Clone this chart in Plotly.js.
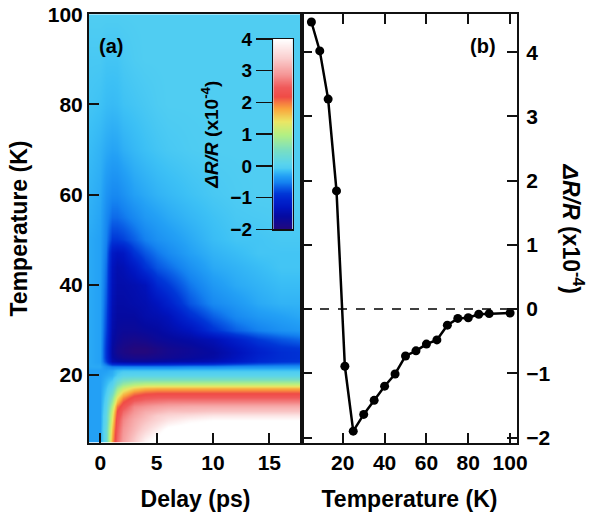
<!DOCTYPE html>
<html>
<head>
<meta charset="utf-8">
<script src="https://cdn.plot.ly/plotly-3.0.1.min.js"></script>
<style>html,body{margin:0;padding:0;background:#fff;}#plot{width:591px;height:515px;}</style>
</head>
<body>
<div id="plot"></div>
<script>
// ---- Panel (a): transient reflectivity map, dR/R (x1e-4) ----
const delays = [-1, 0, 0.5, 1, 1.5, 2, 3, 4, 5, 6, 8, 10, 12, 14, 16, 18];
const temps = [5, 8, 10, 11, 12, 13, 14, 15, 16, 17, 18, 19, 20, 21, 22, 23, 24, 25, 26, 28, 30, 33, 36, 40, 44, 47, 50, 55, 60, 70, 80, 90, 100];
const mapT5   = [-0.3,-0.3,0.3,1.8,2.6,3.0,3.4,3.9,4.2,4.3,4.3,4.3,4.3,4.3,4.3,4.3];
const mapT8   = [-0.3,-0.3,0.3,1.6,2.5,2.9,3.2,3.5,3.8,4.1,4.2,4.2,4.2,4.2,4.2,4.2];
const mapT10  = [-0.3,-0.3,0.2,1.4,2.4,2.8,3.1,3.3,3.5,3.7,3.9,4.0,4.0,4.0,4.0,4.0];
const mapT11  = [-0.3,-0.3,0.2,1.3,2.3,2.7,3.0,3.2,3.4,3.5,3.6,3.7,3.7,3.7,3.7,3.7];
const mapT12  = [-0.3,-0.3,0.15,1.2,2.2,2.6,2.9,3.1,3.2,3.3,3.3,3.35,3.35,3.35,3.35,3.35];
const mapT13  = [-0.3,-0.3,0.1,1.0,2.0,2.4,2.8,2.9,3.0,3.05,3.1,3.1,3.1,3.1,3.1,3.1];
const mapT14  = [-0.3,-0.3,0.05,0.8,1.7,2.2,2.6,2.7,2.75,2.8,2.8,2.8,2.8,2.8,2.8,2.8];
const mapT15  = [-0.3,-0.3,0.0,0.6,1.4,1.9,2.3,2.45,2.5,2.5,2.5,2.5,2.5,2.5,2.5,2.5];
const mapT16  = [-0.3,-0.3,-0.05,0.4,1.1,1.6,2.0,2.15,2.2,2.2,2.2,2.2,2.2,2.2,2.2,2.2];
const mapT17  = [-0.3,-0.3,-0.1,0.2,0.8,1.2,1.55,1.7,1.75,1.75,1.75,1.75,1.75,1.75,1.75,1.75];
const mapT18  = [-0.3,-0.3,-0.15,0.05,0.5,0.8,1.0,1.1,1.1,1.1,1.1,1.1,1.1,1.1,1.1,1.1];
const mapT19  = [-0.3,-0.3,-0.2,-0.1,0.2,0.4,0.5,0.5,0.5,0.5,0.5,0.5,0.5,0.5,0.5,0.5];
const mapT20  = [-0.3,-0.3,-0.25,-0.2,-0.05,0.1,0.12,0.12,0.12,0.12,0.12,0.12,0.12,0.12,0.12,0.12];
const mapT21  = [-0.3,-0.3,-0.3,-0.25,-0.15,-0.1,-0.1,-0.1,-0.1,-0.1,-0.1,-0.1,-0.1,-0.1,-0.1,-0.1];
const mapT22  = [-0.25,-0.25,-0.4,-0.5,-0.5,-0.5,-0.5,-0.5,-0.5,-0.5,-0.45,-0.45,-0.4,-0.4,-0.4,-0.4];
const mapT23  = [-0.25,-0.3,-0.8,-1.45,-1.55,-1.6,-1.65,-1.65,-1.6,-1.55,-1.5,-1.4,-1.2,-1.0,-0.9,-0.85];
const mapT24  = [-0.25,-0.3,-0.9,-1.55,-1.7,-1.8,-1.85,-1.85,-1.8,-1.75,-1.65,-1.55,-1.3,-1.05,-0.95,-0.9];
const mapT25  = [-0.25,-0.3,-0.9,-1.6,-1.8,-1.9,-2.0,-2.0,-1.9,-1.8,-1.7,-1.6,-1.35,-1.1,-0.95,-0.9];
const mapT26  = [-0.25,-0.3,-0.9,-1.6,-1.8,-1.9,-2.0,-2.0,-1.9,-1.8,-1.7,-1.55,-1.3,-1.05,-0.9,-0.85];
const mapT28  = [-0.25,-0.3,-0.85,-1.55,-1.7,-1.8,-1.85,-1.8,-1.7,-1.65,-1.55,-1.4,-1.1,-0.85,-0.7,-0.6];
const mapT30  = [-0.25,-0.3,-0.8,-1.5,-1.65,-1.7,-1.7,-1.65,-1.6,-1.5,-1.3,-0.9,-0.65,-0.5,-0.4,-0.35];
const mapT33  = [-0.25,-0.3,-0.75,-1.45,-1.6,-1.6,-1.6,-1.5,-1.45,-1.35,-0.95,-0.65,-0.45,-0.35,-0.3,-0.25];
const mapT36  = [-0.25,-0.3,-0.7,-1.4,-1.55,-1.55,-1.5,-1.45,-1.3,-1.1,-0.7,-0.45,-0.35,-0.25,-0.2,-0.2];
const mapT40  = [-0.25,-0.3,-0.65,-1.35,-1.5,-1.5,-1.45,-1.35,-1.0,-0.85,-0.55,-0.35,-0.25,-0.2,-0.15,-0.15];
const mapT44  = [-0.25,-0.3,-0.6,-1.3,-1.45,-1.4,-1.2,-0.9,-0.7,-0.6,-0.4,-0.25,-0.2,-0.15,-0.1,-0.1];
const mapT47  = [-0.25,-0.3,-0.55,-1.2,-1.3,-1.25,-0.9,-0.7,-0.55,-0.45,-0.3,-0.2,-0.15,-0.1,-0.1,-0.1];
const mapT50  = [-0.25,-0.3,-0.5,-0.85,-0.85,-0.8,-0.65,-0.5,-0.4,-0.35,-0.25,-0.15,-0.1,-0.1,-0.08,-0.08];
const mapT55  = [-0.22,-0.28,-0.45,-0.6,-0.6,-0.55,-0.45,-0.35,-0.3,-0.25,-0.18,-0.12,-0.08,-0.07,-0.06,-0.06];
const mapT60  = [-0.2,-0.25,-0.38,-0.45,-0.45,-0.4,-0.3,-0.25,-0.2,-0.17,-0.12,-0.08,-0.06,-0.05,-0.05,-0.05];
const mapT70  = [-0.15,-0.2,-0.25,-0.28,-0.27,-0.22,-0.17,-0.13,-0.1,-0.08,-0.06,-0.05,-0.05,-0.05,-0.05,-0.05];
const mapT80  = [-0.1,-0.12,-0.15,-0.16,-0.15,-0.12,-0.1,-0.08,-0.06,-0.05,-0.05,-0.05,-0.05,-0.05,-0.05,-0.05];
const mapT90  = [-0.08,-0.08,-0.1,-0.1,-0.1,-0.08,-0.06,-0.05,-0.05,-0.05,-0.05,-0.05,-0.05,-0.05,-0.05,-0.05];
const mapT100 = [-0.05,-0.05,-0.05,-0.05,-0.05,-0.05,-0.05,-0.05,-0.05,-0.05,-0.05,-0.05,-0.05,-0.05,-0.05,-0.05];
const mapRows = [mapT5,mapT8,mapT10,mapT11,mapT12,mapT13,mapT14,mapT15,mapT16,mapT17,mapT18,mapT19,mapT20,mapT21,mapT22,mapT23,mapT24,mapT25,mapT26,mapT28,mapT30,mapT33,mapT36,mapT40,mapT44,mapT47,mapT50,mapT55,mapT60,mapT70,mapT80,mapT90,mapT100];

// colour-bar levels (legend of the map)
const cbarLevels = [-2,-1.75,-1.5,-1.25,-1,-0.75,-0.5,-0.25,0,0.25,0.5,0.75,1,1.25,1.5,1.75,2,2.25,2.5,2.75,3,3.25,3.5,3.75,4];
const cbarTicks = [-2,-1,0,1,2,3,4];

// ---- Panel (b): dR/R vs temperature ----
const tempB = [5, 9, 13, 17, 21, 25, 30, 35, 40, 45, 50, 55, 60, 65, 70, 75, 80, 85, 90, 100];
const dRB = [4.47, 4.02, 3.27, 1.84, -0.89, -1.90, -1.64, -1.42, -1.20, -1.01, -0.73, -0.65, -0.545, -0.48, -0.25, -0.145, -0.135, -0.08, -0.07, -0.06];

const zmin = -2, zmax = 4;
function f(v){ return (v - zmin)/(zmax - zmin); }
const cscale = [
  [f(-2.0),'rgb(35,8,125)'],
  [f(-1.6),'rgb(5,10,160)'],
  [f(-1.3),'rgb(0,20,190)'],
  [f(-1.05),'rgb(0,35,205)'],
  [f(-0.85),'rgb(0,55,215)'],
  [f(-0.65),'rgb(10,95,230)'],
  [f(-0.5),'rgb(20,130,240)'],
  [f(-0.3),'rgb(35,160,245)'],
  [f(-0.13),'rgb(60,192,245)'],
  [f(-0.05),'rgb(80,205,242)'],
  [f(0.1),'rgb(90,212,236)'],
  [f(0.5),'rgb(120,222,195)'],
  [f(1.0),'rgb(180,240,130)'],
  [f(1.4),'rgb(235,230,100)'],
  [f(1.8),'rgb(250,165,60)'],
  [f(2.2),'rgb(240,75,70)'],
  [f(2.5),'rgb(240,90,90)'],
  [f(2.9),'rgb(245,150,150)'],
  [f(3.4),'rgb(250,205,205)'],
  [f(4.0),'rgb(255,255,255)']
];

const FONT = 'Liberation Sans, Arial, Helvetica, sans-serif';
const tickFont = {family: FONT, size: 21, color: '#000', weight: 'bold'};
const titleFont = {family: FONT, size: 23, color: '#000', weight: 'bold'};
const LC = '#111';

const traces = [
  {type: 'heatmap', x: delays, y: temps, z: mapRows, colorscale: cscale, zmin: zmin, zmax: zmax,
   zsmooth: 'best', showscale: false, xaxis: 'x', yaxis: 'y', hoverinfo: 'skip'},
  {type: 'heatmap', x: [0, 1], y: cbarLevels, z: cbarLevels.map(v => [v, v]), colorscale: cscale,
   zmin: zmin, zmax: zmax, zsmooth: 'best', showscale: false, xaxis: 'x3', yaxis: 'y3', hoverinfo: 'skip'},
  {type: 'scatter', mode: 'lines+markers', x: tempB, y: dRB, xaxis: 'x2', yaxis: 'y2',
   line: {color: '#000', width: 2.5}, marker: {color: '#000', size: 9}, hoverinfo: 'skip'}
];

const H = 515, W = 591;
const yDom = [1 - 442.7/H, 1 - 14.3/H];
const layout = {
  width: W, height: H, margin: {l: 0, r: 0, t: 0, b: 0}, paper_bgcolor: '#fff', plot_bgcolor: '#fff',
  showlegend: false,
  xaxis: {domain: [89/W, 302/W], range: [-1, 17.9], anchor: 'y', tickvals: [0, 5, 10, 15],
    ticks: 'inside', ticklen: 10, tickwidth: 2, tickcolor: LC, showline: true, linecolor: LC, linewidth: 2,
    mirror: true, showgrid: false, zeroline: false, tickfont: tickFont,
    title: {text: 'Delay (ps)', font: titleFont, standoff: 18}},
  yaxis: {domain: yDom, range: [5, 100], anchor: 'x', tickvals: [20, 40, 60, 80, 100],
    ticks: 'inside', ticklen: 10, tickwidth: 2, tickcolor: LC, showline: true, linecolor: LC, linewidth: 2,
    mirror: true, showgrid: false, zeroline: false, tickfont: tickFont,
    title: {text: 'Temperature (K)', font: titleFont, standoff: 14}},
  xaxis2: {domain: [302/W, 517/W], range: [0.5, 103.3], anchor: 'y2', tickvals: [20, 40, 60, 80, 100],
    ticks: 'inside', ticklen: 10, tickwidth: 2, tickcolor: LC, showline: true, linecolor: LC, linewidth: 2,
    mirror: 'ticks', showgrid: false, zeroline: false, tickfont: tickFont,
    title: {text: 'Temperature (K)', font: titleFont, standoff: 18}},
  yaxis2: {domain: yDom, range: [-2.08, 4.59], anchor: 'x2', side: 'right', tickvals: [-2, -1, 0, 1, 2, 3, 4],
    ticks: 'inside', ticklen: 10, tickwidth: 2, tickcolor: LC, showline: true, linecolor: LC, linewidth: 2,
    mirror: 'ticks', showgrid: false, zeroline: false, tickfont: tickFont, ticklabelstandoff: 3},
  xaxis3: {domain: [273.3/W, 292.7/W], range: [0, 1], anchor: 'y3', showticklabels: false, ticks: '',
    showline: true, linecolor: LC, linewidth: 1.5, mirror: true, showgrid: false, zeroline: false, fixedrange: true},
  yaxis3: {domain: [1 - 229.3/H, 1 - 39/H], range: [-2, 4], anchor: 'x3', side: 'left', tickvals: cbarTicks,
    ticks: 'outside', ticklen: 16, tickwidth: 1.5, tickcolor: LC, showline: true, linecolor: LC, linewidth: 1.5,
    mirror: true, showgrid: false, zeroline: false,
    tickfont: {family: FONT, size: 19, color: '#000', weight: 'bold'},
    title: {text: '<i>ΔR/R</i> (x10<sup>-4</sup>)', font: {family: FONT, size: 19, color: '#000', weight: 'bold'}, standoff: 6}},
  shapes: [
    {type: 'line', xref: 'x2 domain', yref: 'y2', x0: 0, x1: 1, y0: 0, y1: 0,
     line: {color: '#000', width: 1.5, dash: 'dash'}, layer: 'below'}
  ],
  annotations: [
    {text: '(a)', xref: 'paper', yref: 'paper', x: 97/W, y: 1 - 46/H, xanchor: 'left', yanchor: 'middle',
     showarrow: false, font: {family: FONT, size: 20, color: '#000', weight: 'bold'}},
    {text: '(b)', xref: 'paper', yref: 'paper', x: 498/W, y: 1 - 46/H, xanchor: 'right', yanchor: 'middle',
     showarrow: false, font: {family: FONT, size: 20, color: '#000', weight: 'bold'}},
    {text: '<i>ΔR/R</i> (x10<sup>-4</sup>)', xref: 'paper', yref: 'paper', x: 573/W, y: 1 - 228.5/H,
     xanchor: 'center', yanchor: 'middle', textangle: 90, showarrow: false, font: titleFont}
  ]
};

Plotly.newPlot('plot', traces, layout, {staticPlot: true, displayModeBar: false});
</script>
</body>
</html>
